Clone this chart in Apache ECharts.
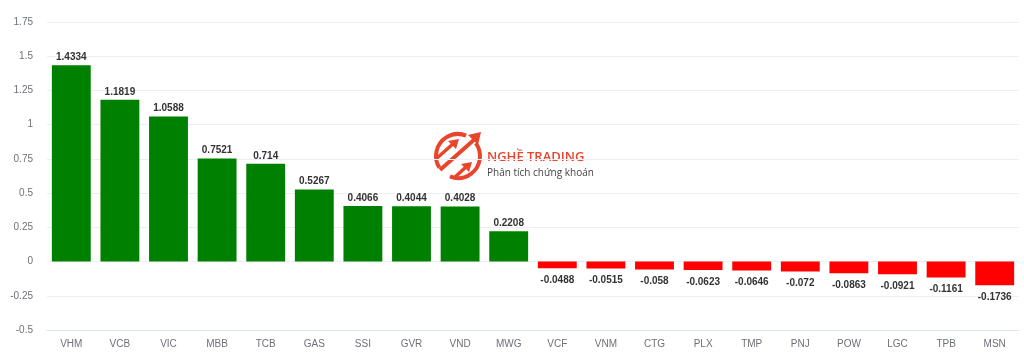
<!DOCTYPE html>
<html>
<head>
<meta charset="utf-8">
<script src="https://cdn.jsdelivr.net/npm/echarts@6/dist/echarts.min.js"></script>
<style>
  html, body { margin: 0; padding: 0; background: #fff; }
  #chart { width: 1024px; height: 354px; }
</style>
</head>
<body>
<div id="chart"></div>
<script>
// mã cổ phiếu và mức đóng góp vào chỉ số
const tickers = ['VHM', 'VCB', 'VIC', 'MBB', 'TCB', 'GAS', 'SSI', 'GVR', 'VND', 'MWG',
  'VCF', 'VNM', 'CTG', 'PLX', 'TMP', 'PNJ', 'POW', 'LGC', 'TPB', 'MSN']
const impact = [1.4334, 1.1819, 1.0588, 0.7521, 0.714, 0.5267, 0.4066, 0.4044, 0.4028, 0.2208,
  -0.0488, -0.0515, -0.058, -0.0623, -0.0646, -0.072, -0.0863, -0.0921, -0.1161, -0.1736]

const UP = '#008000'
const DOWN = '#ff0000'
const LOGO = '#e8452c'
const FONT = "'Liberation Sans', Arial, sans-serif"

const chart = echarts.init(document.getElementById('chart'))

// logo watermark ở giữa biểu đồ
const cx = 458, cy = 156, r = 22
const logo = [
  { type: 'arc', shape: { cx, cy, r, startAngle: -Math.PI * 0.2, endAngle: Math.PI * 0.62 },
    style: { stroke: LOGO, lineWidth: 4, fill: null } },
  { type: 'arc', shape: { cx, cy, r, startAngle: Math.PI * 0.82, endAngle: Math.PI * 1.62 },
    style: { stroke: LOGO, lineWidth: 4, fill: null } },
  { type: 'line', shape: { x1: 440, y1: 170, x2: 476, y2: 138 }, style: { stroke: LOGO, lineWidth: 4 } },
  { type: 'polygon', shape: { points: [[481, 132], [468, 135], [478, 145]] }, style: { fill: LOGO } },
  { type: 'line', shape: { x1: 437, y1: 158, x2: 454, y2: 143 }, style: { stroke: LOGO, lineWidth: 3.5 } },
  { type: 'polygon', shape: { points: [[459, 139], [448, 141], [456, 149]] }, style: { fill: LOGO } },
  { type: 'line', shape: { x1: 454, y1: 178, x2: 467, y2: 166 }, style: { stroke: LOGO, lineWidth: 3.5 } },
  { type: 'polygon', shape: { points: [[472, 162], [461, 164], [469, 172]] }, style: { fill: LOGO } },
  { type: 'text', x: 487, y: 151, style: { text: 'NGHỀ TRADING', fill: LOGO,
    font: "600 13px 'Open Sans', sans-serif" } },
  { type: 'text', x: 487, y: 168, style: { text: 'Phân tích chứng khoán', fill: '#444',
    font: "10px 'Open Sans', sans-serif" } }
]

chart.setOption({
  animation: false,
  textStyle: { fontFamily: FONT },
  grid: { left: 47, right: 5, top: 22, bottom: 24 },
  graphic: logo,
  xAxis: {
    type: 'category',
    data: tickers,
    axisLine: { onZero: false, lineStyle: { color: '#dde3f1' } },
    axisTick: { lineStyle: { color: '#dde3f1' }, length: 5 },
    axisLabel: { color: '#6e7079', fontSize: 10, margin: 9 }
  },
  yAxis: {
    type: 'value',
    min: -0.5,
    max: 1.75,
    interval: 0.25,
    axisLabel: { color: '#6e7079', fontSize: 10, margin: 14 },
    splitLine: { lineStyle: { color: '#eceff5' } }
  },
  series: [{
    type: 'bar',
    barWidth: '80%',
    data: impact.map(v => ({
      value: v,
      itemStyle: { color: v >= 0 ? UP : DOWN },
      label: { position: v >= 0 ? 'top' : 'bottom', distance: v >= 0 ? 3 : 7 }
    })),
    label: { show: true, color: '#333', fontSize: 10, fontWeight: 'bold' }
  }]
})
</script>
</body>
</html>
